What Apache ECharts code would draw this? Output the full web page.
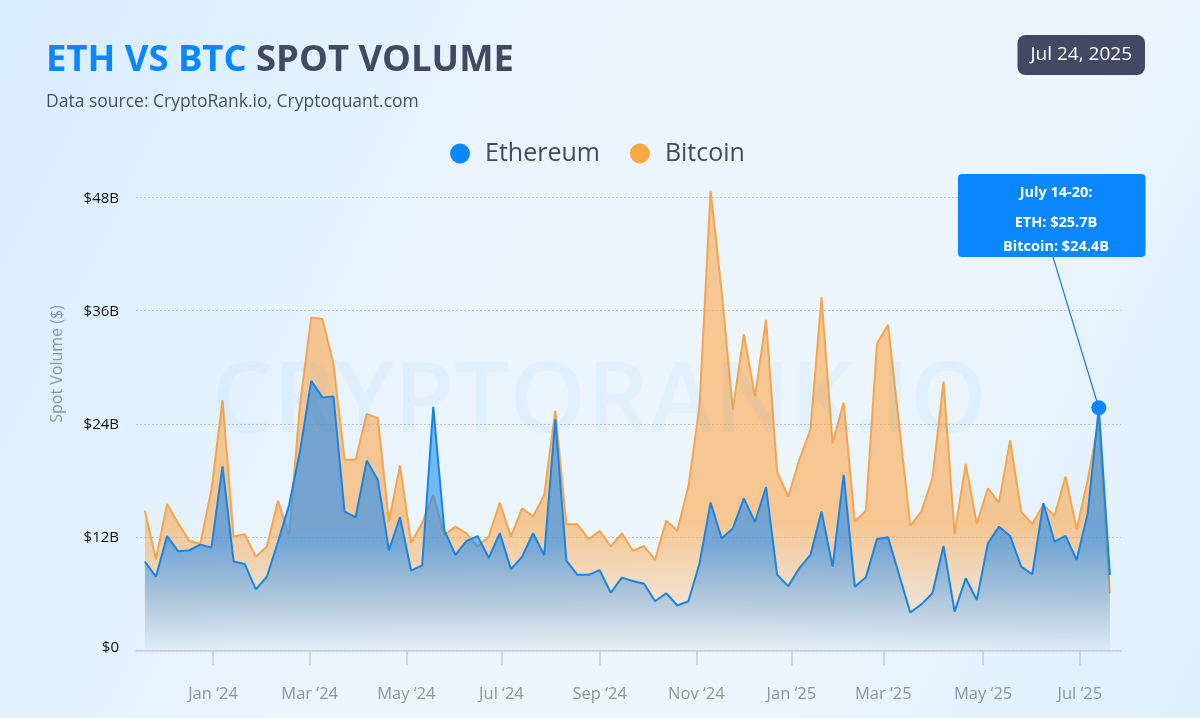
<!DOCTYPE html>
<html>
<head>
<meta charset="utf-8">
<title>ETH vs BTC Spot Volume</title>
<script src="https://cdn.jsdelivr.net/npm/echarts@6/dist/echarts.min.js"></script>
<style>
html,body{margin:0;padding:0;}
#chart{width:1200px;height:718px;}
</style>
</head>
<body>
<div id="chart"></div>
<script>
var weeks = [
    '2023-11-19','2023-11-26','2023-12-03','2023-12-10','2023-12-17','2023-12-24','2023-12-31',
    '2024-01-07','2024-01-14','2024-01-21','2024-01-28','2024-02-04','2024-02-11','2024-02-18','2024-02-25',
    '2024-03-03','2024-03-10','2024-03-17','2024-03-24','2024-03-31','2024-04-07','2024-04-14','2024-04-21','2024-04-28',
    '2024-05-05','2024-05-12','2024-05-19','2024-05-26','2024-06-02','2024-06-09','2024-06-16','2024-06-23','2024-06-30',
    '2024-07-07','2024-07-14','2024-07-21','2024-07-28','2024-08-04','2024-08-11','2024-08-18','2024-08-25',
    '2024-09-01','2024-09-08','2024-09-15','2024-09-22','2024-09-29','2024-10-06','2024-10-13','2024-10-20','2024-10-27',
    '2024-11-03','2024-11-10','2024-11-17','2024-11-24','2024-12-01','2024-12-08','2024-12-15','2024-12-22','2024-12-29',
    '2025-01-05','2025-01-12','2025-01-19','2025-01-26','2025-02-02','2025-02-09','2025-02-16','2025-02-23',
    '2025-03-02','2025-03-09','2025-03-16','2025-03-23','2025-03-30','2025-04-06','2025-04-13','2025-04-20','2025-04-27',
    '2025-05-04','2025-05-11','2025-05-18','2025-05-25','2025-06-01','2025-06-08','2025-06-15','2025-06-22','2025-06-29',
    '2025-07-06','2025-07-13','2025-07-20'
];

var ethVolume = [
    9.4,7.8,12.1,10.5,10.6,11.2,10.9,19.5,9.4,9.15,6.45,7.8,11.5,15.4,21.2,28.55,26.8,26.9,14.7,14.1,
    20.1,18.05,10.6,14.1,8.45,9.0,25.8,12.7,10.1,11.6,12.1,9.8,12.4,8.6,9.9,12.4,10.1,24.5,9.5,8.0,
    8.0,8.5,6.1,7.7,7.35,7.05,5.2,6.05,4.75,5.2,9.2,15.65,11.87,12.9,16.1,13.6,17.3,8.0,6.8,8.7,
    10.1,14.7,8.87,18.6,6.74,7.73,11.8,11.98,7.98,4.0,4.87,6.04,11.06,4.1,7.63,5.33,11.33,13.1,12.12,8.87,
    8.05,15.58,11.52,12.12,9.57,14.5,25.7,7.98
];

var btcVolume = [
    14.8,9.65,15.5,13.45,11.6,11.3,17,26.5,12.05,12.3,9.9,11,15.85,12.2,26.2,35.27,35.1,30.35,20.2,20.2,
    25.05,24.6,13.65,19.6,11.4,13.5,16.45,12.2,13.1,12.4,11,12.05,15.65,12.05,15.05,14.17,16.45,25.37,13.35,13.35,
    11.77,12.65,11,12.4,10.55,11.05,9.57,13.74,12.68,17.35,25.85,48.7,38,25.48,33.5,26.9,35.02,18.94,16.3,20.18,
    23.36,37.39,21.94,26.26,13.64,14.8,32.48,34.49,23.85,13.18,14.7,18.23,28.48,12.33,19.75,13.39,17.17,15.65,22.23,14.7,
    13.39,15.41,14.24,18.41,12.83,18.06,24.4,6.04
];

// where the ticks sit in the picture, a day or two off the month start in places
var tickDates = ['2024-01-01','2024-03-02','2024-05-02','2024-07-01','2024-09-01','2024-11-01','2024-12-31','2025-02-27','2025-05-01','2025-07-01'];
var tickLabels = ['Jan ‘24','Mar ‘24','May ‘24','Jul ‘24','Sep ‘24','Nov ‘24','Jan ‘25','Mar ‘25','May ‘25','Jul ‘25'];

var highlightWeek = '2025-07-13';
var highlightValue = 25.7;
var calloutLines = ['July 14-20:','ETH: $25.7B','Bitcoin: $24.4B'];

var FONT = '"Open Sans"';
var BLUE = '#0a87ff';
var ORANGE = '#fba843';
var DARK = '#424a63';

var tickTimes = tickDates.map(function (d) { return Date.parse(d); });

function seriesData(values) {
    return values.map(function (v, i) { return [Date.parse(weeks[i]), v]; });
}

function fade(rgb, alpha, solidUntil) {
    return new echarts.graphic.LinearGradient(0, 0, 0, 1, [
        {offset: 0, color: 'rgba(' + rgb + ',' + alpha + ')'},
        {offset: solidUntil, color: 'rgba(' + rgb + ',' + alpha + ')'},
        {offset: 1, color: 'rgba(' + rgb + ',0.03)'}
    ]);
}

var chart = echarts.init(document.getElementById('chart'));

chart.setOption({
    animation: false,
    backgroundColor: new echarts.graphic.LinearGradient(0, 0.1, 1, 0.9, [
        {offset: 0, color: '#d8edff'},
        {offset: 0.35, color: '#e9f4fe'},
        {offset: 0.65, color: '#eef6fd'},
        {offset: 1, color: '#dff0fd'}
    ]),
    textStyle: {fontFamily: FONT},
    title: [
        {
            left: 41, top: 38,
            text: '{a|ETH VS BTC }{b|SPOT VOLUME}',
            textStyle: {
                rich: {
                    a: {fontFamily: FONT, fontSize: 36.4, fontWeight: 700, color: BLUE},
                    b: {fontFamily: FONT, fontSize: 36.4, fontWeight: 700, color: DARK}
                }
            }
        },
        {
            left: 41, top: 88,
            text: 'Data source: CryptoRank.io, Cryptoquant.com',
            textStyle: {fontFamily: FONT, fontSize: 17.5, fontWeight: 400, color: '#46505f'}
        },
        {
            right: 55, top: 35, padding: [10.5, 13],
            backgroundColor: DARK, borderRadius: 8,
            text: 'Jul 24, 2025',
            textStyle: {fontFamily: FONT, fontSize: 19, fontWeight: 500, color: '#fff'}
        }
    ],
    legend: {
        top: 136, left: 445,
        icon: 'circle',
        itemWidth: 20, itemHeight: 20, itemGap: 30,
        textStyle: {fontFamily: FONT, fontSize: 25, color: DARK, padding: [0, 0, 0, 10]},
        data: ['Ethereum', 'Bitcoin']
    },
    grid: {left: 136, right: 79, top: 197.3, bottom: 67.7},
    xAxis: {
        type: 'value',
        min: Date.parse('2023-11-13T09:36:00Z'),
        max: Date.parse('2025-07-27T00:00:00Z'),
        axisLine: {lineStyle: {color: '#c5ccd6', width: 1.5}},
        axisTick: {customValues: tickTimes, length: 15, lineStyle: {color: '#c5ccd6', width: 1.5}},
        axisLabel: {
            customValues: tickTimes,
            margin: 35,
            fontFamily: FONT, fontSize: 16.5, color: '#8c95a1',
            hideOverlap: false,
            formatter: function (value) { return tickLabels[tickTimes.indexOf(value)]; }
        },
        splitLine: {show: false}
    },
    yAxis: {
        type: 'value',
        min: 0, max: 48, interval: 12,
        axisLine: {show: false},
        axisTick: {show: false},
        axisLabel: {
            margin: 17,
            fontFamily: FONT, fontSize: 15, fontWeight: 500, color: '#111',
            padding: [2, 0, 0, 0],
            formatter: function (v) { return v === 0 ? '{zero|$0}' : '$' + v + 'B'; },
            rich: {
                zero: {fontFamily: FONT, fontSize: 15, fontWeight: 500, color: '#111', padding: [0, 0, 8, 0]}
            }
        },
        splitLine: {lineStyle: {color: '#c2c8d0', width: 1, type: [2, 2]}}
    },
    series: [
        {
            name: 'Ethereum',
            type: 'line',
            z: 3,
            clip: false,
            showSymbol: false,
            data: seriesData(ethVolume),
            itemStyle: {color: BLUE},
            lineStyle: {color: '#1a84e2', width: 2},
            areaStyle: {color: fade('10,135,255', 0.55, 0.6), opacity: 1, origin: 'start'},
            markPoint: {
                silent: true,
                symbol: 'circle', symbolSize: 15,
                itemStyle: {color: BLUE},
                label: {show: false},
                data: [{coord: [Date.parse(highlightWeek), highlightValue]}]
            },
            markLine: {
                silent: true,
                symbol: ['none', 'none'],
                label: {show: false},
                lineStyle: {color: '#1a7fd8', width: 1.2, type: 'solid'},
                data: [[
                    {coord: [Date.parse(highlightWeek), highlightValue]},
                    {x: 1053, y: 257}
                ]]
            }
        },
        {
            name: 'Bitcoin',
            type: 'line',
            z: 2,
            clip: false,
            showSymbol: false,
            data: seriesData(btcVolume),
            itemStyle: {color: ORANGE},
            lineStyle: {color: '#f3a64d', width: 2},
            areaStyle: {color: fade('255,160,60', 0.55, 0.72), opacity: 1, origin: 'start'}
        }
    ],
    graphic: [
        // watermark lies over the areas, faint enough to let them through
        {
            type: 'text', z: 10, x: 599, y: 404,
            style: {
                text: 'CRYPTORANK.IO',
                font: '600 98px ' + FONT,
                fill: 'rgba(10,135,255,0.045)',
                align: 'center', verticalAlign: 'middle'
            }
        },
        {
            type: 'text', z: 1, x: 57, y: 364, rotation: Math.PI / 2,
            style: {
                text: 'Spot Volume ($)',
                font: '400 16px ' + FONT,
                fill: '#8c96a3',
                align: 'center', verticalAlign: 'middle'
            }
        },
        {
            type: 'rect', z: 100,
            shape: {x: 958, y: 174, width: 187.5, height: 83, r: 4},
            style: {fill: BLUE}
        },
        {
            type: 'text', z: 101, x: 1056, y: 193,
            style: {text: calloutLines[0], font: '700 14.5px ' + FONT, fill: '#fff', align: 'center', verticalAlign: 'middle'}
        },
        {
            type: 'text', z: 101, x: 1056, y: 223,
            style: {text: calloutLines[1], font: '700 14.5px ' + FONT, fill: '#fff', align: 'center', verticalAlign: 'middle'}
        },
        {
            type: 'text', z: 101, x: 1056, y: 247,
            style: {text: calloutLines[2], font: '700 14.5px ' + FONT, fill: '#fff', align: 'center', verticalAlign: 'middle'}
        }
    ]
});

window.addEventListener('resize', chart.resize);
</script>
</body>
</html>
